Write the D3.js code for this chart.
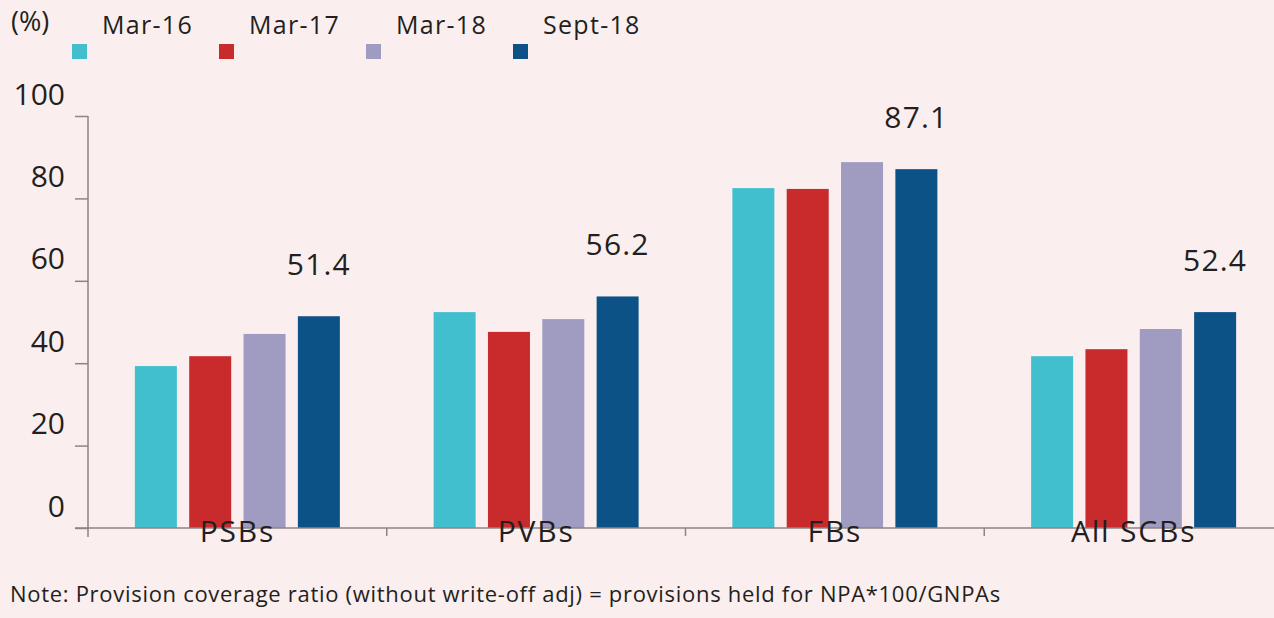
<!DOCTYPE html>
<html>
<head>
<meta charset="utf-8">
<script src="https://cdn.jsdelivr.net/npm/d3@7"></script>
<style>
  html, body { margin: 0; padding: 0; background: #fbeeee; }
  svg { display: block; }
  text { font-family: "Open Sans", "Noto Sans", sans-serif; fill: #231f20; }
</style>
</head>
<body>
<svg id="chart" width="1274" height="618"></svg>
<script>
const categories = ["PSBs", "PVBs", "FBs", "All SCBs"];
const seriesNames = ["Mar-16", "Mar-17", "Mar-18", "Sept-18"];
const mar16 = [39.3, 52.4, 82.5, 41.7];
const mar17 = [41.7, 47.6, 82.3, 43.4];
const mar18 = [47.1, 50.7, 88.8, 48.3];
const sept18 = [51.4, 56.2, 87.1, 52.4];
const yTicks = [0, 20, 40, 60, 80, 100];
const colors = ["#41bfcf", "#c92a2c", "#a09bc1", "#0d5287"];
const unitLabel = "(%)";
const note = "Note: Provision coverage ratio (without write-off adj) = provisions held for NPA*100/GNPAs";

const seriesValues = [mar16, mar17, mar18, sept18];
const data = categories.map((c, i) => ({
  cat: c,
  values: seriesNames.map((s, j) => ({ series: s, idx: j, value: seriesValues[j][i] }))
}));

const svg = d3.select("#chart");
const axisColor = "#8c8586";
const FONT = "'Open Sans', 'Noto Sans', sans-serif";

const x0 = d3.scaleBand().domain(categories).range([88, 1283]).padding(0);
const groupW = 205;
const x1 = d3.scaleBand().domain(seriesNames).range([-groupW / 2, groupW / 2]).paddingInner(0.227).paddingOuter(0);
const y = d3.scaleLinear().domain([0, 100]).range([528, 116]);
const color = d3.scaleOrdinal().domain(seriesNames).range(colors);

// Bars
const groups = svg.append("g").selectAll("g").data(data).join("g")
  .attr("transform", d => `translate(${x0(d.cat) + x0.bandwidth() / 2},0)`);
groups.selectAll("rect").data(d => d.values).join("rect")
  .attr("x", d => x1(d.series))
  .attr("width", x1.bandwidth())
  .attr("y", d => y(d.value))
  .attr("height", d => y(0) - y(d.value))
  .attr("fill", d => color(d.series));

// Value labels for the latest series
groups.append("text")
  .attr("x", x1(seriesNames[3]) + x1.bandwidth() / 2)
  .attr("y", d => y(d.values[3].value) - 41)
  .attr("text-anchor", "middle")
  .attr("font-size", 30)
  .attr("letter-spacing", 1.2)
  .text(d => d.values[3].value.toFixed(1));

// Y axis
const yAxis = d3.axisLeft(y).tickValues(yTicks).tickSize(13).tickPadding(10);
const gy = svg.append("g").attr("transform", "translate(88,0)").call(yAxis);
gy.select(".domain").remove();
gy.selectAll(".tick line").attr("stroke", axisColor).attr("stroke-width", 1.5);
gy.selectAll(".tick text")
  .attr("font-family", FONT)
  .attr("font-size", 30)
  .attr("fill", "#231f20")
  .attr("dy", "-0.4em");
gy.append("line").attr("x1", 0).attr("x2", 0)
  .attr("y1", y(100)).attr("y2", y(0) + 9)
  .attr("stroke", axisColor).attr("stroke-width", 1.5);

// X axis
const boundaries = categories.slice(1).map(c => x0(c));
const gx = svg.append("g");
gx.append("line").attr("x1", 75).attr("x2", 1274)
  .attr("y1", y(0)).attr("y2", y(0))
  .attr("stroke", axisColor).attr("stroke-width", 1.5);
gx.selectAll("line.tk").data(boundaries).join("line").attr("class", "tk")
  .attr("x1", d => d).attr("x2", d => d)
  .attr("y1", y(0)).attr("y2", y(0) + 8)
  .attr("stroke", axisColor).attr("stroke-width", 1.5);
gx.selectAll("text").data(categories).join("text")
  .attr("x", d => x0(d) + x0.bandwidth() / 2)
  .attr("y", y(0) + 14)
  .attr("text-anchor", "middle")
  .attr("font-size", 30)
  .attr("letter-spacing", 1.8)
  .text(d => d);

// Legend
const legX = d3.scaleLinear().domain([0, 3]).range([72, 513]);
const leg = svg.append("g").selectAll("g").data(seriesNames).join("g")
  .attr("transform", (d, i) => `translate(${legX(i)},0)`);
leg.append("rect").attr("x", 0).attr("y", 44).attr("width", 15).attr("height", 15)
  .attr("fill", d => color(d));
leg.append("text").attr("x", 30).attr("y", 34).attr("font-size", 25)
  .attr("letter-spacing", 1.3).text(d => d);

svg.append("text").attr("x", 11).attr("y", 31).attr("font-size", 27).text(unitLabel);

// Note
svg.append("text").attr("x", 10).attr("y", 602).attr("font-size", 22)
  .attr("letter-spacing", 0.7).text(note);
</script>
</body>
</html>
